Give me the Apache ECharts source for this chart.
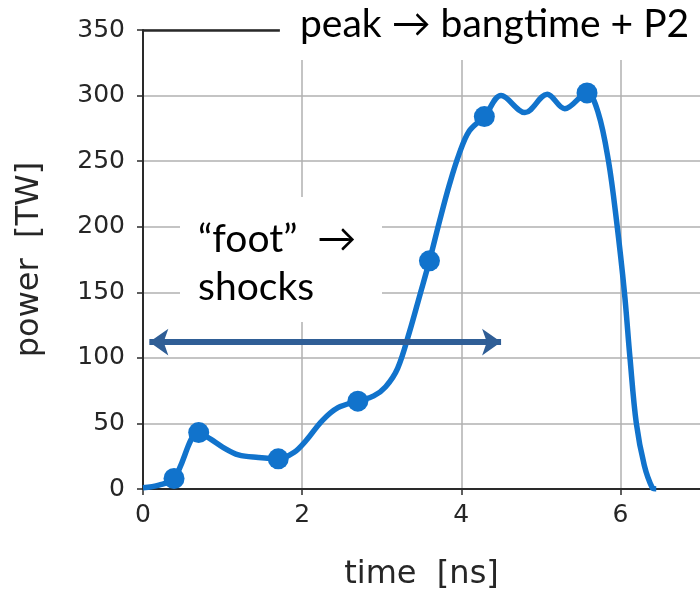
<!DOCTYPE html>
<html>
<head>
<meta charset="utf-8">
<script src="https://cdn.jsdelivr.net/npm/echarts@6/dist/echarts.min.js"></script>
<style>
html,body{margin:0;padding:0;background:#fff;}
#chart{width:700px;height:596px;}
</style>
</head>
<body>
<div id="chart"></div>
<script>
// Pulse shape
const timeNs  = [0, 0.2, 0.39, 0.7, 0.85, 1.0, 1.2, 1.45, 1.7, 1.9, 2.05, 2.25, 2.45, 2.7, 2.9, 3.05, 3.2, 3.35, 3.48, 3.6, 3.73, 3.85, 3.97, 4.1, 4.29, 4.5, 4.8, 5.08, 5.3, 5.58, 5.72, 5.85, 5.95, 6.05, 6.12, 6.2, 6.3, 6.4, 6.45];
const powerTW = [1, 3, 8, 43, 38, 32, 26, 24, 23, 28, 37, 52, 62, 67, 71, 78, 92, 120, 148, 174, 205, 232, 255, 273, 284, 300, 287, 301, 290, 302, 287, 250, 205, 150, 100, 50, 18, 1, 0];
// Highlighted points
const markerTime  = [0.39, 0.7, 1.7, 2.7, 3.6, 4.29, 5.58];
const markerPower = [8, 43, 23, 67, 174, 284, 302];
// Axis ticks
const xTicks = [0, 2, 4, 6];
const yTicks = [0, 50, 100, 150, 200, 250, 300, 350];
// Annotation anchors (data units)
const topLineX = [0, 1.72];
const topLineY = 350;
const arrowX = [0.08, 4.5];
const arrowY = 112;

const curve = timeNs.map((t, i) => [t, powerTW[i]]);
const markers = markerTime.map((t, i) => [t, markerPower[i]]);

const chart = echarts.init(document.getElementById('chart'), null, {renderer: 'canvas'});
const axisColor = '#2a2a2a';
const gridColor = '#b0b0b0';
const blue = '#1173cc';
const labelColor = '#262626';

chart.setOption({
  animation: false,
  backgroundColor: '#fff',
  grid: {left: 143, top: 30, width: 560, height: 462},
  xAxis: {
    type: 'value', min: 0, max: 7, interval: 2,
    name: 'time  [ns]', nameLocation: 'middle', nameGap: 70,
    nameTextStyle: {fontFamily: 'DejaVu Sans', fontSize: 32, color: labelColor},
    axisLine: {show: true, onZero: false, lineStyle: {color: axisColor, width: 2}},
    axisTick: {show: true, length: 6, lineStyle: {color: axisColor, width: 1.5},
      customValues: xTicks},
    axisLabel: {fontFamily: 'DejaVu Sans', fontSize: 25, color: labelColor, margin: 14,
      customValues: xTicks},
    splitLine: {show: true, lineStyle: {color: gridColor, width: 1.5}}
  },
  yAxis: {
    type: 'value', min: 0, max: 350, interval: 50,
    name: 'power  [TW]', nameLocation: 'middle', nameGap: 97,
    nameTextStyle: {fontFamily: 'DejaVu Sans', fontSize: 32, color: labelColor},
    axisLine: {show: true, onZero: false, lineStyle: {color: axisColor, width: 2}},
    axisTick: {show: true, length: 6, lineStyle: {color: axisColor, width: 1.5}},
    axisLabel: {fontFamily: 'DejaVu Sans', fontSize: 25, color: labelColor, margin: 18,
      formatter: v => yTicks.includes(v) ? String(v) : ''},
    splitLine: {show: true, lineStyle: {color: gridColor, width: 1.5}}
  },
  series: [
    {
      type: 'line', data: curve, smooth: 0.35, showSymbol: false,
      lineStyle: {color: blue, width: 5.5}, z: 3, silent: true,
      markLine: {
        silent: true, animation: false,
        label: {show: false},
        data: [
          [{coord: [topLineX[0], topLineY], symbol: 'none', lineStyle: {color: axisColor, width: 2.5, type: 'solid'}},
           {coord: [topLineX[1], topLineY], symbol: 'none'}],
          [{coord: [arrowX[0], arrowY], symbol: 'arrow', symbolSize: [20, 19], lineStyle: {color: '#2f5e96', width: 6, type: 'solid'}},
           {coord: [arrowX[1], arrowY], symbol: 'arrow', symbolSize: [20, 19]}]
        ]
      }
    },
    {
      type: 'scatter', data: markers, symbolSize: 21, z: 4, silent: true,
      itemStyle: {color: blue, opacity: 1}
    }
  ],
  graphic: [
    {type: 'rect', left: 280, top: 0, shape: {width: 420, height: 60}, style: {fill: '#fff'}, z: 50},
    {type: 'rect', left: 180, top: 197, shape: {width: 202, height: 125}, style: {fill: '#fff'}, z: 50},
    {type: 'text', left: 300, top: 5, z: 60,
      style: {text: 'peak → bangtime + P2', font: '39px Lato', fill: '#000'}},
    {type: 'text', left: 198, top: 220, z: 60,
      style: {text: '“foot”  →', font: '39px Lato', fill: '#000'}},
    {type: 'text', left: 198, top: 268, z: 60,
      style: {text: 'shocks', font: '39px Lato', fill: '#000'}}
  ]
});
</script>
</body>
</html>
